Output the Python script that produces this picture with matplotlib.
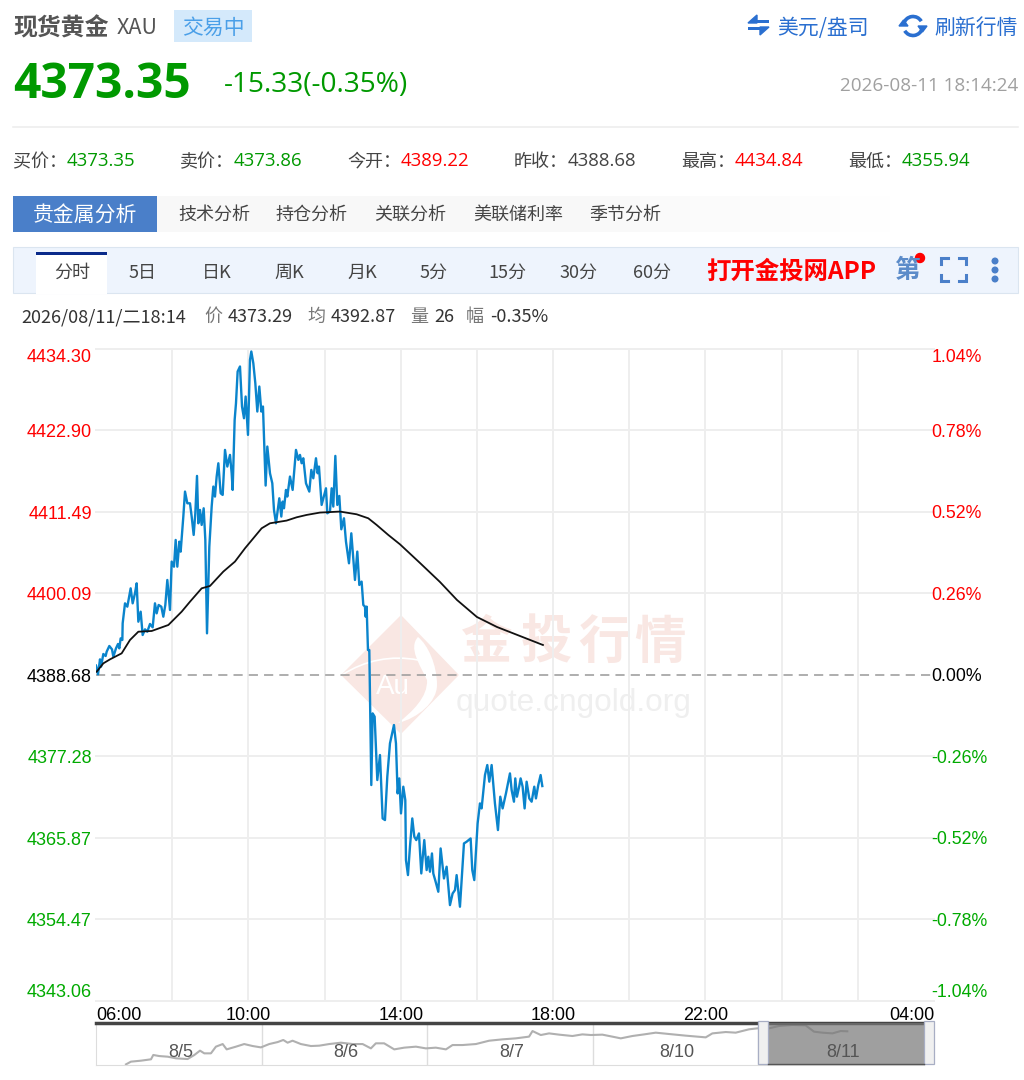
import matplotlib
matplotlib.use('Agg')
import matplotlib.pyplot as plt
from matplotlib.patches import Rectangle, Polygon, PathPatch, Circle, Arc
from matplotlib.path import Path

plt.rcParams['font.family'] = ['Noto Sans CJK SC', 'DejaVu Sans']

# minutes after 06:00 and price
price_min = [0, 3.15, 6.3, 7.9, 11.55, 15.2, 16.8, 21, 25.2, 27.3, 31.5, 34.65, 36.75, 38.85, 41.5, 42, 45.7, 49.35, 54.6, 57.75,
    61.4, 64.05, 66.7, 70.35, 73.5, 77.2, 80.85, 85.05, 89.25, 92.9, 95.55, 98.7, 102.9, 106.05, 109.2, 112.35, 116.55, 119.2, 122.85, 125.5,
    128.1, 131.25, 133.35, 137.55, 140.2, 143.85, 148.05, 150.7, 153.85, 156.45, 159.1, 161.2, 163.8, 166.45, 169.6, 172.2, 174.85, 178.5, 182.2, 184.8,
    187.4, 190.05, 192.7, 196.35, 199.5, 203.2, 206.85, 211.05, 213.7, 215.25, 218.4, 220.5, 223.1, 226.8, 230, 233.1, 235.7, 239.4, 242.55, 244.65,
    247.8, 250.95, 254.1, 257.25, 260.4, 263, 267.2, 269.85, 274.05, 277.7, 280.35, 283.5, 288.75, 291.9, 294, 296.1, 299.25, 301.35, 305.55, 309.75,
    315, 318.7, 321.3, 323.9, 326.55, 330.75, 336, 339.15, 342.3, 346.5, 349.1, 351.2, 355.4, 362.25, 364.35, 368.55, 371.2, 373.8, 377, 380.1,
    383.25, 386.4, 390.6, 393.75, 398.5, 402.15, 407.9, 411.6, 414.75, 418.4, 421.05, 423.65, 424.7, 426.3, 428.4, 430.5, 433.65, 435.75, 438.9, 443.1,
    447.3, 451.5, 455.2, 458.85, 463.05, 469.35, 472.5, 475.1, 477.75, 480.4, 484.05, 487.2, 488.25, 491.4, 494.55, 498.2, 501.4, 504.5, 508.7, 512.4,
    517.1, 520.8, 523.4, 526.05, 529.2, 531.3, 535, 539.2, 542.85, 548.1, 552.3, 557.55, 561.75, 565.45, 568.05, 573.3, 579.6, 583.8, 590.1, 592.7,
    595.85, 601.1, 604.8, 607.4, 612.7, 616.35, 619.5, 623.2, 628.4, 633.15, 636.8, 640.5, 645.75, 652.05, 654.7, 658.35, 660.45, 663.05, 666.75, 668.85,
    672, 675.15, 678.3, 682.5, 686.2, 690.35, 693, 696.65, 700.35, 703]
price = [4390.0, 4388.77, 4390.87, 4389.84, 4391.62, 4391.34, 4391.94, 4392.74, 4392.27, 4391.24, 4392.41, 4393.02, 4392.41, 4393.81, 4393.58, 4395.91, 4398.71, 4398.24, 4400.81, 4398.71,
    4400.11, 4401.51, 4396.14, 4397.54, 4394.28, 4395.07, 4394.74, 4395.82, 4395.35, 4398.71, 4397.31, 4398.48, 4398.24, 4396.84, 4398.48, 4401.98, 4397.78, 4404.55, 4403.84, 4407.58,
    4403.84, 4407.34, 4405.94, 4410.85, 4414.35, 4412.71, 4412.71, 4410.85, 4408.28, 4411.31, 4416.54, 4409.91, 4411.78, 4409.68, 4412.01, 4407.58, 4394.51, 4406.64, 4412.25, 4415.05,
    4413.65, 4416.45, 4418.31, 4414.11, 4413.88, 4420.18, 4417.85, 4419.48, 4416.91, 4414.58, 4424.38, 4426.71, 4431.15, 4431.85, 4426.25, 4424.61, 4427.65, 4422.28, 4432.78, 4433.95,
    4432.31, 4429.51, 4425.55, 4429.05, 4425.55, 4426.25, 4415.19, 4420.65, 4416.91, 4415.51, 4411.78, 4409.91, 4413.41, 4410.85, 4412.95, 4412.01, 4414.58, 4413.65, 4416.45, 4414.58,
    4420.18, 4418.78, 4419.48, 4418.31, 4419.01, 4415.51, 4414.35, 4417.38, 4416.21, 4419.01, 4416.91, 4417.85, 4412.48, 4414.81, 4411.31, 4411.55, 4414.81, 4412.25, 4419.34, 4412.48,
    4413.74, 4409.07, 4410.61, 4407.35, 4404.31, 4408.51, 4401.98, 4405.95, 4401.28, 4401.75, 4398.48, 4398.25, 4396.85, 4398.25, 4392.18, 4392.18, 4373.28, 4383.31, 4382.85, 4373.98,
    4377.48, 4368.61, 4368.38, 4374.44, 4379.11, 4381.68, 4379.11, 4372.11, 4374.21, 4369.31, 4373.05, 4371.18, 4362.78, 4360.68, 4364.65, 4368.61, 4366.05, 4365.58, 4366.51, 4360.91,
    4365.58, 4361.38, 4363.25, 4361.15, 4363.71, 4360.91, 4359.75, 4358.35, 4364.41, 4360.21, 4361.85, 4356.48, 4358.11, 4358.58, 4360.68, 4356.25, 4365.11, 4365.35, 4365.81, 4361.38,
    4359.98, 4367.91, 4370.71, 4370.01, 4374.68, 4376.08, 4373.75, 4376.08, 4370.71, 4366.98, 4371.65, 4370.01, 4372.11, 4374.91, 4372.58, 4370.95, 4374.21, 4371.65, 4373.14, 4374.21,
    4373.05, 4370.01, 4373.75, 4371.41, 4370.95, 4373.05, 4371.41, 4373.28, 4374.68, 4373.14]

avg_min = [1.05, 11.55, 22.05, 40.4, 53.55, 66.7, 87.7, 114, 134.9, 148.05, 166.45, 179.55, 200.55, 218.9, 234.7, 247.8, 260.9, 274.05, 300.3, 316.05,
    331.8, 352.8, 384.3, 410.55, 428.9, 442.05, 460.4, 478.8, 510.3, 541.8, 568.6, 600, 631.6, 667.8, 704]
avg_price = [4389.14, 4390.31, 4390.87, 4391.71, 4393.58, 4394.74, 4394.84, 4395.68, 4397.54, 4398.94, 4400.81, 4401.14, 4403.15, 4404.55, 4406.41, 4407.81, 4409.21, 4409.91, 4410.29, 4410.75,
    4411.08, 4411.41, 4411.55, 4411.17, 4410.61, 4409.68, 4408.28, 4406.97, 4404.36, 4401.7, 4399.18, 4396.8, 4395.4, 4394.14, 4392.88]

prev_close = 4388.68
price_ticks = [4343.06, 4354.47, 4365.87, 4377.28, 4388.68, 4400.09, 4411.49, 4422.90, 4434.30]
pct_ticks = [-1.04, -0.78, -0.52, -0.26, 0.00, 0.26, 0.52, 0.78, 1.04]
grid_min = [0, 120, 240, 360, 480, 600, 720, 840, 960, 1080, 1200, 1320]
time_labels = ['06:00', '', '10:00', '', '14:00', '', '18:00', '', '22:00', '', '', '04:00']

# overview strip, day position and price
mini_day = [.181, .211, .272, .332, .346, .382, .433, .483, .553, .594, .628, .654, .694, .724, .765, .789, .845, .895, .946, .996,
    1.046, 1.097, 1.131, 1.157, 1.187, 1.237, 1.298, 1.348, 1.408, 1.479, 1.549, 1.610, 1.660, 1.690, 1.740, 1.801, 1.861, 1.932, 1.992,
    2.052, 2.113, 2.153, 2.213, 2.294, 2.374, 2.455, 2.535, 2.615, 2.636, 2.656, 2.686, 2.736, 2.797, 2.877, 2.937, 2.988,
    3.058, 3.118, 3.169, 3.239, 3.310, 3.380, 3.461, 3.561, 3.682, 3.722, 3.803, 3.863, 3.943, 3.994,
    4.064, 4.125, 4.205, 4.285, 4.336, 4.386, 4.447, 4.497, 4.537]
mini_price = [4011, 4041, 4052, 4067, 4115, 4103, 4096, 4078, 4070, 4115, 4163, 4133, 4133, 4207, 4236, 4177, 4207, 4236, 4214, 4199,
    4236, 4258, 4281, 4251, 4273, 4236, 4214, 4218, 4236, 4251, 4236, 4236, 4188, 4244, 4244, 4177, 4196, 4207, 4188,
    4196, 4177, 4225, 4225, 4236, 4273, 4288, 4299, 4318, 4380, 4362, 4336, 4354, 4340, 4325, 4343, 4336,
    4340, 4318, 4299, 4325, 4343, 4362, 4347, 4329, 4310, 4354, 4369, 4362, 4399, 4410,
    4410, 4436, 4447, 4443, 4373, 4362, 4354, 4380, 4377]
day_labels = ['8/5', '8/6', '8/7', '8/10', '8/11']

quote_labels = ['买价：', '卖价：', '今开：', '昨收：', '最高：', '最低：']
quote_values = ['4373.35', '4373.86', '4389.22', '4388.68', '4434.84', '4355.94']
analysis_tabs = ['技术分析', '持仓分析', '关联分析', '美联储利率', '季节分析']
period_tabs = ['分时', '5日', '日K', '周K', '月K', '5分', '15分', '30分', '60分']

GREEN = '#009900'
RED = '#ff0000'
BLUE = '#2a6fd0'
W, H = 1024, 1080


def box(l, t, r, b):
    return [l / W, 1 - b / H, (r - l) / W, (b - t) / H]


fig = plt.figure(figsize=(10.24, 10.80), dpi=100)
bg = fig.add_axes([0, 0, 1, 1], zorder=0)
bg.set_xlim(0, W)
bg.set_ylim(H, 0)
bg.axis('off')


def put(x, y, s, size=13, color='#444444', ha='left', **kw):
    bg.text(x, y + 2, s, fontsize=size, color=color, ha=ha, va='center', **kw)


def rect(l, t, r, b, color, **kw):
    bg.add_patch(Rectangle((l, t), r - l, b - t, facecolor=color, edgecolor=kw.pop('edge', 'none'), **kw))


# header
put(13, 26, '现货黄金', 17.2, '#555555', fontweight='bold')
put(117, 26, 'XAU', 15.5, '#555555')
rect(174, 10, 252, 42, '#d4e9fb')
put(213, 26, '交易中', 15, '#4a9fe8', ha='center')
put(13, 84, '4373.35', 34.5, GREEN, fontweight='bold', family='Open Sans')
put(224, 83, '-15.33(-0.35%)', 20.2, GREEN, family='Open Sans')
put(1018, 84, '2026-08-11 18:14:24', 13.6, '#a0a0a0', ha='right', family='Open Sans')
put(777, 26, '美元/盎司', 15, BLUE)
put(934, 26, '刷新行情', 15, BLUE)
rect(751, 20, 769, 23, BLUE)
rect(748, 27, 766, 30, BLUE)
bg.add_patch(Polygon([(748, 23), (757, 15), (757, 23)], color=BLUE))
bg.add_patch(Polygon([(769, 27), (760, 35), (760, 27)], color=BLUE))
bg.add_patch(Arc((913, 26), 19, 19, theta1=195, theta2=330, color=BLUE, lw=2.6))
bg.add_patch(Arc((913, 26), 19, 19, theta1=15, theta2=150, color=BLUE, lw=2.6))
bg.add_patch(Polygon([(918, 26), (927, 26), (922.5, 32)], color=BLUE))
bg.add_patch(Polygon([(899, 26), (908, 26), (903.5, 20)], color=BLUE))
bg.plot([13, 1018], [127, 127], color='#eeeeee', lw=1.2)

# quote row
quote_colors = [GREEN, GREEN, RED, '#444444', RED, GREEN]
for i in range(6):
    put(13 + i * 167, 160, quote_labels[i], 13)
    put(67 + i * 167, 159.5, quote_values[i], 13.4, quote_colors[i], family='Open Sans')

# analysis tabs
rect(157, 196, 560, 232, '#f8f8f8')
for i in range(36):
    shade = 0xf8 + round(7 * i / 35)
    rect(560 + i * 10, 196, 571 + i * 10, 232, f'#{shade:02x}{shade:02x}{shade:02x}')
rect(13, 196, 157, 232, '#4a7fc9')
put(85, 213, '贵金属分析', 15, 'white', ha='center')
for x, s in zip([178, 276, 374, 473, 589], analysis_tabs):
    put(x, 213, s, 13)

# period toolbar
rect(13, 247, 1018, 293, '#eef4fd', edge='#dbe5f0', lw=0.8)
rect(36, 252, 107, 294, 'white')
rect(36, 252, 107, 255, '#0a2a8a')
for x, s in zip([72, 143, 217, 289, 362, 434, 507, 579, 652], period_tabs):
    put(x, 271, s, 13, ha='center')
put(706, 270, '打开金投网APP', 17.6, RED, fontweight='bold')
put(907, 269, '第', 18.5, '#5b8bc9', ha='center', fontweight='bold')
bg.add_patch(Circle((920, 258), 4.5, color=RED))
for xs, ys in [([941, 941, 948], [264, 258, 258]), ([959, 966, 966], [258, 258, 264]),
               ([941, 941, 948], [275, 281, 281]), ([959, 966, 966], [281, 281, 275])]:
    bg.plot(xs, ys, color='#4a7fc9', lw=2.2, solid_joinstyle='miter')
for y in [261, 270, 279]:
    bg.add_patch(Circle((995, y), 2.8, color='#4a7fc9'))

# info line
for x, s, c in [(21, '2026/08/11/二18:14', '#333333'), (204, '价', '#777777'), (228, '4373.29', '#333333'),
                (307, '均', '#777777'), (331, '4392.87', '#333333'), (410, '量', '#777777'),
                (434, '26', '#333333'), (466, '幅', '#777777'), (490, '-0.35%', '#333333')]:
    put(x, 315, s, 13, c)

# watermark
WM = '#f9e7e3'
bg.add_patch(Polygon([(342, 675), (401, 616), (458, 675), (401, 733)], color=WM))
bg.add_patch(PathPatch(Path([(418, 637), (408, 648), (420, 665), (427, 680), (428, 697), (412, 712), (398, 723),
                             (418, 718), (437, 702), (437, 685), (437, 665), (428, 645), (418, 637)],
                            [1, 4, 4, 4, 4, 4, 4, 4, 4, 4, 4, 4, 4]), fc='white', ec='none'))
bg.add_patch(PathPatch(Path([(342, 675), (365, 660), (392, 655), (418, 660)], [1, 4, 4, 4]),
                       fc='none', ec='white', lw=1.2))
put(393, 685, 'Au', 20, 'white', ha='center', family='Liberation Sans')
for x, s in zip([487, 546, 604, 660], '金投行情'):
    put(x, 640, s, 37, WM, ha='center', fontweight='bold')
put(456, 701, 'quote.cngold.org', 22.8, '#efefef', family='Liberation Sans')

# main chart
ax = fig.add_axes(box(96, 349, 934, 1001), zorder=1)
ax.patch.set_visible(False)
ax.plot(price_min, price, color='#0a84cc', lw=1.7, zorder=3)
ax.plot(avg_min, avg_price, color='#111111', lw=1.3, zorder=4)
ax.set_xlim(0, 1320)
ax.set_ylim(price_ticks[0], price_ticks[-1])
ax.set_xticks(grid_min)
ax.set_xticklabels(time_labels, family='Liberation Sans', fontsize=13, color='black')
ax.set_yticks(price_ticks)
ax.set_yticklabels([f'{v:.2f}' for v in price_ticks], family='Liberation Sans', fontsize=13)
ax.tick_params(axis='both', length=0)
ax.tick_params(axis='y', pad=3)
ax.tick_params(axis='x', pad=4)
ax.grid(True, color='#eeeeee', lw=1.4)
for g in ax.get_xgridlines() + ax.get_ygridlines():
    g.set_clip_on(False)
ax.get_xgridlines()[0].set_visible(False)
ax.get_xgridlines()[-1].set_visible(False)
ax.get_ygridlines()[4].set_visible(False)
for s in ax.spines.values():
    s.set_visible(False)
ax.axhline(prev_close, color='#999999', lw=1.1, dashes=(6, 4), zorder=2)
xl = ax.get_xticklabels()
xl[0].set_ha('left')
xl[-1].set_ha('right')

ax2 = ax.twinx()
ax2.set_zorder(1)
ax2.patch.set_visible(False)
ax2.set_ylim(pct_ticks[0], pct_ticks[-1])
ax2.set_yticks(pct_ticks)
ax2.set_yticklabels([f'{v:.2f}%' for v in pct_ticks], family='Liberation Sans', fontsize=12.8)
ax2.tick_params(axis='y', length=0, pad=-2)
for s in ax2.spines.values():
    s.set_visible(False)

for axis_labels in (ax.get_yticklabels(), ax2.get_yticklabels()):
    for i, t in enumerate(axis_labels):
        t.set_color('#00aa00' if i < 4 else ('black' if i == 4 else RED))
    axis_labels[0].set_va('bottom')
    axis_labels[-1].set_va('top')

# overview strip
mini = fig.add_axes(box(96, 1023, 924, 1065), zorder=1)
mini.plot(mini_day, mini_price, color='#b0b0b0', lw=1.5)
mini.set_xlim(0, 5)
mini.set_ylim(4004, 4469)
mini.set_xticks([1, 2, 3, 4])
mini.set_yticks([])
mini.set_xticklabels([])
mini.tick_params(length=0)
mini.grid(True, axis='x', color='#dddddd', lw=1)
for k in ['left', 'bottom']:
    mini.spines[k].set_color('#dddddd')
mini.spines['right'].set_visible(False)
mini.spines['top'].set_color('#444444')
mini.spines['top'].set_linewidth(2.5)
top = fig.add_axes([0, 0, 1, 1], zorder=2)
top.set_xlim(0, W)
top.set_ylim(H, 0)
top.axis('off')
top.add_patch(Rectangle((768, 1023), 156, 41, color='#777777', alpha=0.7, lw=0))
top.plot([768, 924], [1064, 1064], color='#555555', lw=1)
for x in [758, 924]:
    top.add_patch(Rectangle((x, 1021), 10, 43, facecolor='#f0f0f0', edgecolor='#a8aec4', lw=0.9))
for i, s in enumerate(day_labels):
    top.text(i + 0.51, 4145, s, transform=mini.transData, family='Liberation Sans', fontsize=13,
             color='#555555', ha='center', va='center')

fig.savefig('out.png', dpi=100)
